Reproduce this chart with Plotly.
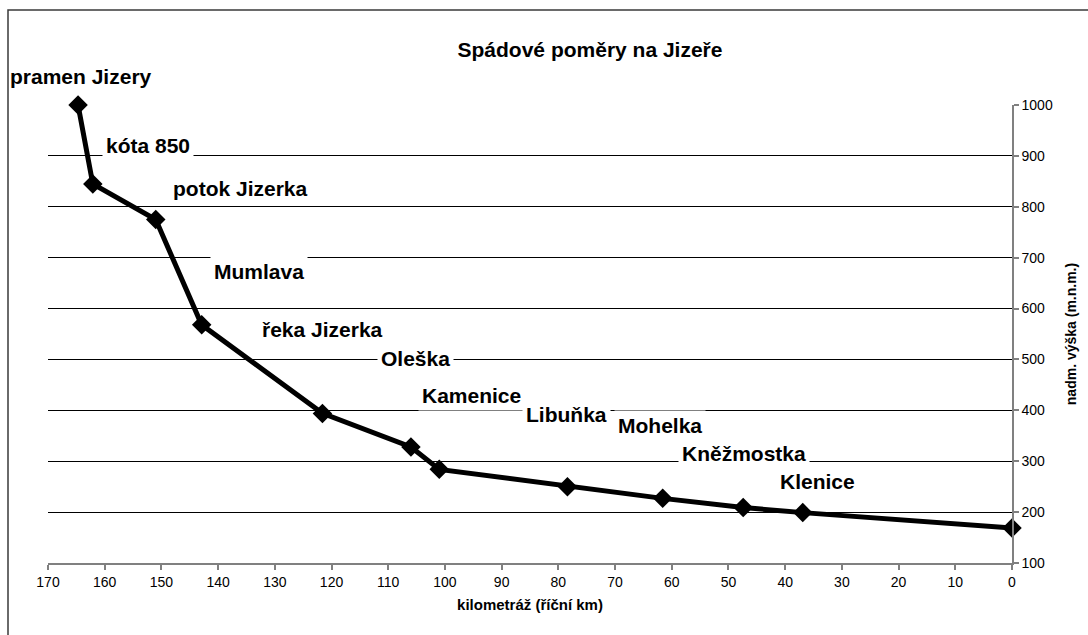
import plotly.graph_objects as go

# River profile of the Jizera: river kilometre vs. elevation
km = [164.7, 162.1, 151.0, 142.9, 121.6, 106.0, 101.0, 78.4, 61.6, 47.4, 36.9, 0.0]
elevation = [1000, 845, 775, 568, 394, 328, 284, 250, 227, 209, 199, 169]
place_names = ["pramen Jizery", "kóta 850", "potok Jizerka", "Mumlava", "řeka Jizerka",
               "Oleška", "Kamenice", "Libuňka", "Mohelka", "Kněžmostka", "Klenice", ""]

x_ticks = list(range(0, 171, 10))
y_ticks = list(range(100, 1001, 100))

# label offsets from their point, in pixels (dx right, dy up)
label_offsets = [(3, 29), (55, 38), (85, 31), (57, 53), (0, 84), (5, 88),
                 (32, 74), (-1, 72), (-3, 73), (1, 54), (15, 31), (0, 0)]

FONT = "Liberation Sans, Arial, sans-serif"

W, H = 1088, 635
L, R, T, B = 48, 76, 105, 72
pw, ph = W - L - R, H - T - B

fig = go.Figure()
fig.add_trace(go.Scatter(
    x=km, y=elevation, mode="lines+markers",
    line=dict(color="black", width=5),
    marker=dict(symbol="diamond", size=15, color="black"),
    cliponaxis=False, showlegend=False, hoverinfo="x+y",
))

annotations = []
for xv, yv, name, (dx, dy) in zip(km, elevation, place_names, label_offsets):
    if not name:
        continue
    # labels inside the plot get a white box that hides the gridlines behind them
    inside = yv < 1000
    annotations.append(dict(
        x=xv, y=yv, xref="x", yref="y", text=name, showarrow=False,
        xshift=dx, yshift=dy, bgcolor="white" if inside else "rgba(0,0,0,0)", borderpad=3,
        font=dict(family=FONT, size=21, color="black", weight="bold"),
    ))

# outer chart frame (left and top edges visible)
frame = dict(type="rect", xref="paper", yref="paper",
             x0=(8 - L) / pw, x1=(W + 20 - L) / pw,
             y0=-(H + 20 - (T + ph)) / ph, y1=(T + ph - 10) / ph,
             line=dict(color="#3a3a3a", width=1.5), fillcolor="rgba(0,0,0,0)", layer="below")

fig.update_layout(
    width=W, height=H,
    margin=dict(l=L, r=R, t=T, b=B, autoexpand=False),
    paper_bgcolor="white", plot_bgcolor="white",
    font=dict(family=FONT, color="black"),
    title=dict(text="Spádové poměry na Jizeře", x=(590 - L) / pw, xref="paper", xanchor="center",
               y=1 - 50 / H, yref="container", yanchor="middle",
               font=dict(family=FONT, size=21, color="black", weight="bold")),
    xaxis=dict(range=[170, 0], tickvals=x_ticks, ticktext=[str(v) for v in x_ticks],
               showgrid=False, zeroline=False, showline=True, linecolor="#808080", linewidth=1.5,
               ticks="outside", ticklen=5, tickcolor="#808080", tickwidth=1.5,
               tickfont=dict(size=14, family=FONT),
               title=dict(text="kilometráž (říční km)", standoff=11,
                          font=dict(size=15, family=FONT, weight="bold"))),
    yaxis=dict(range=[100, 1000], side="right", tickvals=y_ticks,
               showgrid=True, gridcolor="black", gridwidth=1, zeroline=False,
               showline=True, linecolor="#808080", linewidth=1.5,
               ticks="outside", ticklen=5, tickcolor="#808080", tickwidth=1.5,
               tickfont=dict(size=14, family=FONT),
               title=dict(text="nadm. výška (m.n.m.)", standoff=14,
                          font=dict(size=14, family=FONT, weight="bold"))),
    annotations=annotations,
    shapes=[frame],
)

fig.write_html("out.html")
